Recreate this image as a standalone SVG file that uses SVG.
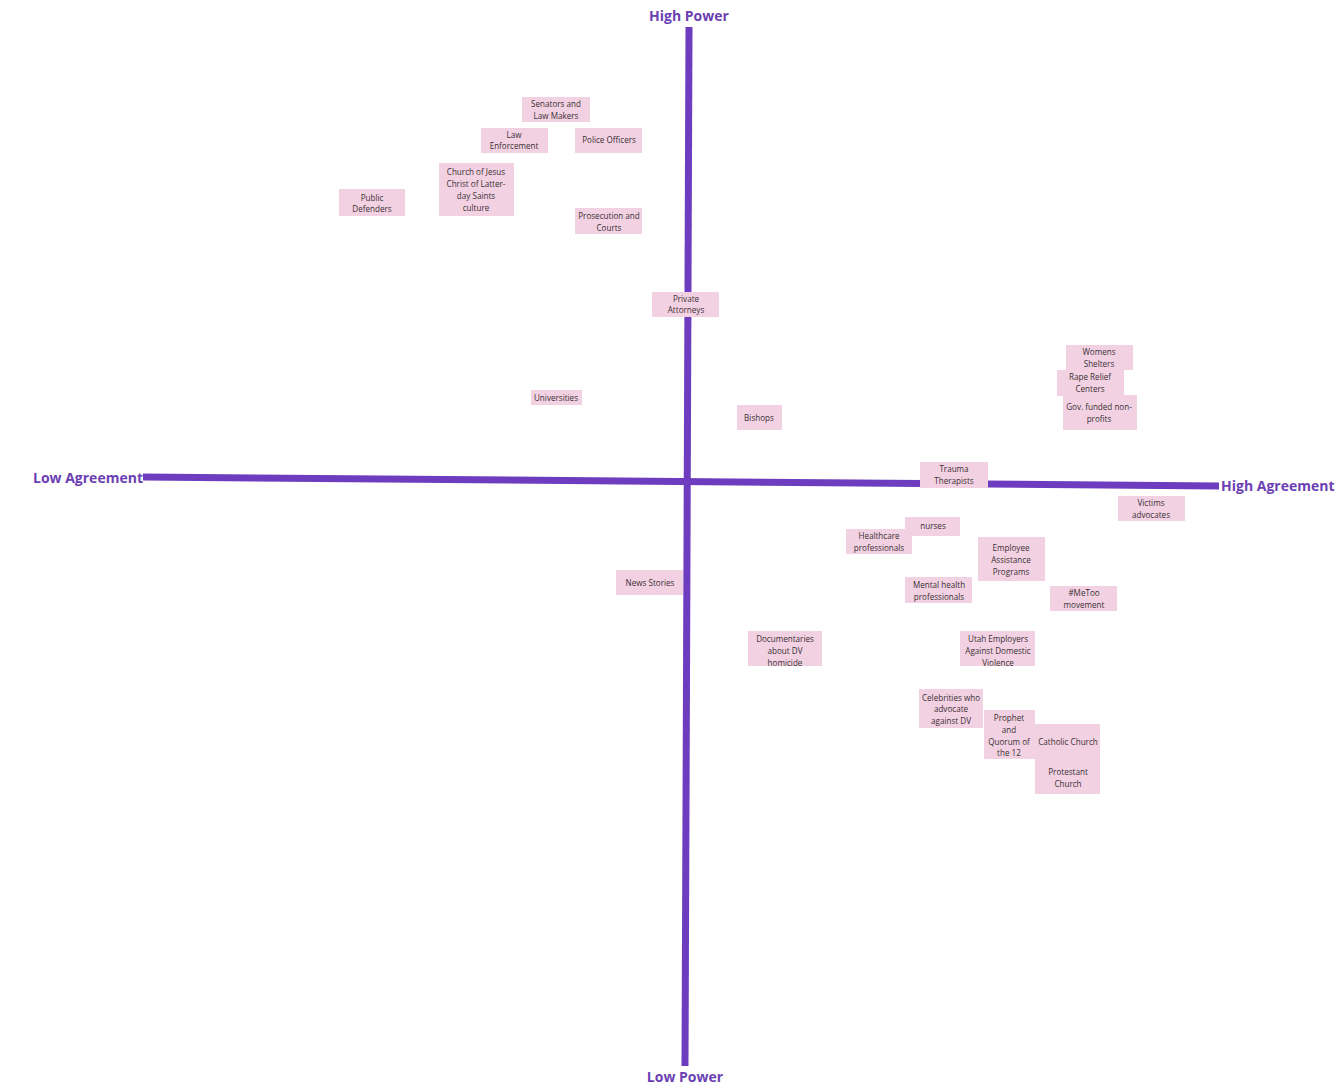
<svg xmlns="http://www.w3.org/2000/svg" width="1337" height="1088" viewBox="0 0 1337 1088">
<style>
.note{fill:#f2d2e2}
.t{font-family:"Open Sans","Noto Sans",sans-serif;font-size:8.1px;fill:#3a3035;text-anchor:middle}
.lab{font-family:"Open Sans","Noto Sans",sans-serif;font-size:14px;font-weight:bold;fill:#6b3fb3}
.axis{stroke:#6e3cbf;stroke-width:7;fill:none}
</style>
<defs>
<clipPath id="cDoc"><rect x="748" y="631" width="74" height="35"/></clipPath>
<clipPath id="cUtah"><rect x="960" y="631" width="75" height="35"/></clipPath>
</defs>
<rect width="1337" height="1088" fill="#fff"/>
<g id="connectors">
<line class="axis" x1="689" y1="27" x2="685" y2="1066"/>
<line class="axis" x1="143" y1="477" x2="1219" y2="486"/>
</g>
<g id="labels">
<text class="lab" x="689" y="21" text-anchor="middle">High Power</text>
<text class="lab" x="685" y="1082" text-anchor="middle">Low Power</text>
<text class="lab" x="33" y="483">Low Agreement</text>
<text class="lab" x="1221" y="491">High Agreement</text>
</g>
<g id="senators"><rect class="note" x="522" y="97" width="68" height="25"/><text class="t" x="556" y="107">Senators and</text><text class="t" x="556" y="119">Law Makers</text></g>
<g id="law-enforcement"><rect class="note" x="481" y="128" width="67" height="25"/><text class="t" x="514" y="138">Law</text><text class="t" x="514" y="149">Enforcement</text></g>
<g id="police"><rect class="note" x="575" y="128" width="67" height="25"/><text class="t" x="609" y="143">Police Officers</text></g>
<g id="church-lds"><rect class="note" x="439" y="163" width="75" height="53"/><text class="t" x="476" y="175">Church of Jesus</text><text class="t" x="476" y="187">Christ of Latter-</text><text class="t" x="476" y="199">day Saints</text><text class="t" x="476" y="211">culture</text></g>
<g id="public-defenders"><rect class="note" x="339" y="189" width="66" height="27"/><text class="t" x="372" y="201">Public</text><text class="t" x="372" y="212">Defenders</text></g>
<g id="prosecution"><rect class="note" x="575" y="208" width="67" height="26"/><text class="t" x="609" y="219">Prosecution and</text><text class="t" x="609" y="231">Courts</text></g>
<g id="private-attorneys"><rect class="note" x="652" y="292" width="67" height="25"/><text class="t" x="686" y="302">Private</text><text class="t" x="686" y="313">Attorneys</text></g>
<g id="universities"><rect class="note" x="531" y="390" width="51" height="15"/><text class="t" x="556" y="401">Universities</text></g>
<g id="bishops"><rect class="note" x="737" y="405" width="45" height="25"/><text class="t" x="759" y="421">Bishops</text></g>
<g id="womens-shelters"><rect class="note" x="1066" y="345" width="67" height="25"/><text class="t" x="1099" y="355">Womens</text><text class="t" x="1099" y="367">Shelters</text></g>
<g id="rape-relief"><rect class="note" x="1057" y="370" width="67" height="26"/><text class="t" x="1090" y="380">Rape Relief</text><text class="t" x="1090" y="392">Centers</text></g>
<g id="gov-nonprofits"><rect class="note" x="1063" y="395" width="74" height="35"/><text class="t" x="1099" y="410">Gov. funded non-</text><text class="t" x="1099" y="422">profits</text></g>
<g id="trauma"><rect class="note" x="920" y="462" width="68" height="26"/><text class="t" x="954" y="472">Trauma</text><text class="t" x="954" y="484">Therapists</text></g>
<g id="victims-advocates"><rect class="note" x="1118" y="496" width="67" height="25"/><text class="t" x="1151" y="506">Victims</text><text class="t" x="1151" y="518">advocates</text></g>
<g id="nurses"><rect class="note" x="905" y="517" width="55" height="19"/><text class="t" x="933" y="529">nurses</text></g>
<g id="healthcare"><rect class="note" x="846" y="529" width="66" height="25"/><text class="t" x="879" y="539">Healthcare</text><text class="t" x="879" y="551">professionals</text></g>
<g id="eap"><rect class="note" x="978" y="537" width="67" height="44"/><text class="t" x="1011" y="551">Employee</text><text class="t" x="1011" y="563">Assistance</text><text class="t" x="1011" y="575">Programs</text></g>
<g id="mental-health"><rect class="note" x="905" y="577" width="67" height="26"/><text class="t" x="939" y="588">Mental health</text><text class="t" x="939" y="600">professionals</text></g>
<g id="metoo"><rect class="note" x="1050" y="586" width="67" height="25"/><text class="t" x="1084" y="596">#MeToo</text><text class="t" x="1084" y="608">movement</text></g>
<g id="news"><rect class="note" x="616" y="570" width="67" height="25"/><text class="t" x="650" y="586">News Stories</text></g>
<g id="documentaries" clip-path="url(#cDoc)"><rect class="note" x="748" y="631" width="74" height="35"/><text class="t" x="785" y="642">Documentaries</text><text class="t" x="785" y="654">about DV</text><text class="t" x="785" y="666">homicide</text></g>
<g id="utah-employers" clip-path="url(#cUtah)"><rect class="note" x="960" y="631" width="75" height="35"/><text class="t" x="998" y="642">Utah Employers</text><text class="t" x="998" y="654">Against Domestic</text><text class="t" x="998" y="666">Violence</text></g>
<g id="celebrities"><rect class="note" x="919" y="689" width="64" height="39"/><text class="t" x="951" y="701">Celebrities who</text><text class="t" x="951" y="712">advocate</text><text class="t" x="951" y="724">against DV</text></g>
<g id="prophet"><rect class="note" x="984" y="710" width="51" height="49"/><text class="t" x="1009" y="721">Prophet</text><text class="t" x="1009" y="733">and</text><text class="t" x="1009" y="745">Quorum of</text><text class="t" x="1009" y="756">the 12</text></g>
<g id="catholic"><rect class="note" x="1035" y="724" width="65" height="36"/><text class="t" x="1068" y="745">Catholic Church</text></g>
<g id="protestant"><rect class="note" x="1035" y="759" width="65" height="35"/><text class="t" x="1068" y="775">Protestant</text><text class="t" x="1068" y="787">Church</text></g>
</svg>
